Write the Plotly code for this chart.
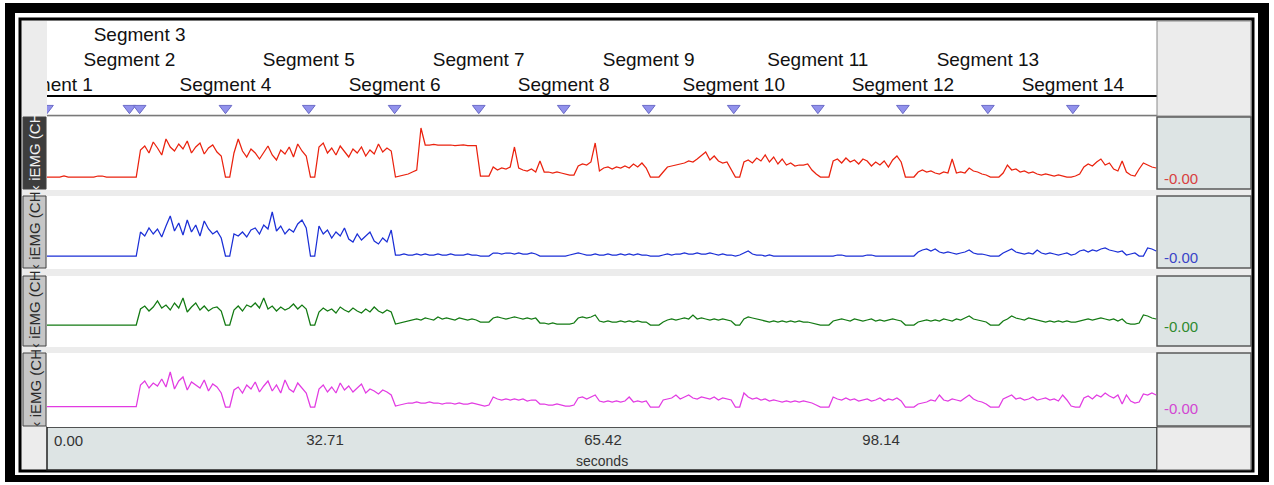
import plotly.graph_objects as go

# ---------------------------------------------------------------------------
# iEMG recording, four channels, sampled every 0.5 s (values = amplitude above
# each channel's baseline, arbitrary units)
# ---------------------------------------------------------------------------
SAMPLE_DT = 0.5

ch1_red = [
    0, 0, 0, 0, 1, 0, 0, 0, 0, 0, 0, 0, 1, 1, 0, 0, 0, 0, 0, 0,                     # 0-10 s
    0, 0, 27, 31, 24, 35, 29, 22, 38, 30, 26, 33, 28, 36, 24, 30, 34, 23, 29, 32,   # 10-20 s
    25, 21, 0, 0, 24, 38, 26, 20, 28, 24, 18, 25, 31, 22, 17, 27, 23, 30, 20, 33,   # 20-30 s
    26, 21, 0, 0, 30, 34, 24, 29, 22, 31, 26, 20, 28, 24, 30, 21, 27, 23, 33, 25,   # 30-40 s
    29, 26, 0, 1, 2, 3, 5, 7, 49, 32, 32, 32.5, 32, 32, 32.5, 32, 31.5, 32, 32, 31.5,  # 40-50 s
    31.5, 31.5, 1, 1, 1, 10, 7, 9, 8, 10, 30, 9, 7, 6, 8, 5, 16, 5, 5, 4,           # 50-60 s
    5, 4, 3, 2, 2, 11, 13, 12, 15, 34, 6, 9, 10, 8, 10, 9, 11, 9, 13, 10,           # 60-70 s
    14, 9, 0, 0, 0, 5, 10, 11, 12, 13, 14, 16, 15, 18, 22, 25, 17, 21, 16, 14,      # 70-80 s
    15, 8, 0, 0, 15, 17, 14, 19, 16, 22, 15, 20, 13, 18, 12, 14, 11, 12, 12, 13,    # 80-90 s
    7, 3, 0, 0, 0, 16, 18, 14, 19, 15, 17, 13, 18, 16, 11, 15, 12, 16, 10, 17,      # 90-100 s
    21, 15, 0, 0, 0, 5, 7, 5, 6, 4, 3, 5, 4, 18, 4, 5, 4, 9, 6, 5,                  # 100-110 s
    3, 2, 0, 0, 0, 4, 12, 7, 8, 5, 6, 4, 5, 3, 2, 3, 2, 1, 2, 1,                    # 110-120 s
    0, 0, 1, 3, 10, 13, 11, 15, 18, 12, 14, 8, 6, 16, 5, 2, 1, 8, 14, 12,           # 120-130 s
    10, 9,
]

ch2_blue = [
    0, 0, 0, 0, 0, 0, 0, 0, 0, 0, 0, 0, 0, 0, 0, 0, 0, 0, 0, 0,
    0, 0, 24, 20, 28, 22, 27, 19, 30, 40, 25, 33, 21, 36, 24, 31, 20, 35, 27, 22,
    25, 18, 0, 0, 22, 20, 24, 19, 26, 28, 22, 31, 27, 44, 25, 30, 22, 27, 24, 32,
    36, 28, 0, 0, 30, 22, 26, 18, 24, 20, 28, 17, 14, 22, 16, 20, 24, 15, 12, 18,
    14, 26, 1, 1, 2, 1, 1, 2, 1, 2, 1, 1, 2, 1, 1, 2, 1, 1, 1, 2,
    1, 1, 0, 0, 0, 3, 3, 2, 3, 3, 2, 3, 2, 2, 3, 2, 0, 0, 0, 0,
    0, 0, 0, 1, 2, 3, 2, 1, 1, 2, 1, 1, 2, 1, 1, 2, 1, 2, 1, 2,
    1, 1, 0, 0, 0, 1, 2, 1, 2, 2, 3, 2, 2, 3, 2, 2, 3, 2, 1, 2,
    1, 1, 0, 1, 3, 5, 2, 1, 1, 0, 1, 0, 0, 0, 0, 0, 0, 0, 0, 0,
    0, 0, 0, 0, 0, 0, 1, 1, 0, 0, 0, 0, 0, 1, 1, 0, 0, 0, 0, 0,
    0, 0, 0, 0, 0, 4, 6, 7, 5, 7, 4, 3, 4, 3, 2, 3, 4, 6, 3, 2,
    2, 1, 0, 0, 0, 3, 5, 7, 4, 3, 2, 3, 2, 6, 3, 2, 3, 2, 1, 2,
    3, 1, 2, 5, 6, 4, 6, 5, 7, 8, 6, 5, 4, 5, 1, 2, 3, 0, 0, 8,
    7, 5,
]

ch3_green = [
    0, 0, 0, 0, 0, 0, 0, 0, 0, 0, 0, 0, 0, 0, 0, 0, 0, 0, 0, 0,
    0, 0, 16, 19, 14, 18, 24, 17, 20, 15, 22, 17, 27, 13, 18, 22, 15, 19, 14, 17,
    18, 14, 0, 0, 15, 19, 14, 20, 18, 22, 17, 27, 16, 19, 14, 18, 15, 17, 21, 16,
    20, 16, 0, 0, 13, 17, 14, 16, 12, 18, 15, 13, 17, 14, 12, 16, 13, 18, 14, 12,
    15, 13, 1, 2, 3, 4, 5, 6, 5, 7, 6, 5, 8, 6, 7, 6, 5, 7, 6, 5,
    6, 5, 3, 3, 3, 7, 8, 7, 6, 7, 8, 7, 6, 7, 6, 7, 2, 2, 1, 2,
    1, 1, 1, 1, 2, 7, 8, 7, 8, 10, 4, 3, 4, 3, 3, 4, 3, 4, 3, 4,
    3, 3, 0, 0, 0, 3, 5, 6, 5, 6, 7, 6, 10, 6, 7, 6, 5, 6, 5, 6,
    5, 4, 0, 0, 6, 8, 7, 6, 5, 4, 3, 4, 3, 4, 3, 4, 3, 4, 3, 3,
    2, 1, 0, 0, 0, 4, 5, 6, 5, 4, 6, 5, 4, 5, 6, 4, 5, 4, 5, 6,
    5, 4, 0, 0, 0, 3, 4, 5, 4, 5, 4, 6, 5, 4, 6, 5, 7, 9, 6, 5,
    4, 3, 0, 0, 0, 4, 6, 9, 7, 6, 5, 7, 6, 5, 4, 3, 4, 3, 4, 3,
    4, 3, 3, 4, 5, 6, 5, 6, 7, 6, 5, 6, 4, 6, 2, 1, 1, 2, 10, 9,
    7, 6,
]

ch4_magenta = [
    0.5, 0.5, 0.5, 0.5, 0.5, 0.5, 0.5, 0.5, 0.5, 0.5, 0.5, 0.5, 0.5, 0.5, 0.5, 0.5, 0.5, 0.5, 0.5, 0.5,
    0.5, 0.5, 22, 26, 19, 24, 21, 28, 20, 35, 18, 26, 30, 17, 25, 22, 19, 27, 16, 23,
    20, 14, 0, 0, 17, 20, 14, 22, 18, 25, 15, 21, 26, 16, 22, 14, 27, 18, 15, 24,
    19, 14, 0, 0, 18, 22, 15, 20, 14, 24, 17, 21, 15, 19, 23, 14, 18, 16, 13, 17,
    15, 12, 1, 2, 3, 4, 4, 5, 4, 4, 5, 4, 4, 3, 4, 4, 3, 4, 3, 3,
    4, 3, 2, 1, 2, 10, 8, 7, 8, 7, 8, 7, 8, 6, 7, 7, 3, 3, 2, 2,
    3, 2, 1, 1, 2, 9, 10, 8, 10, 12, 6, 5, 6, 5, 6, 5, 6, 10, 5, 6,
    5, 6, 0, 0, 0, 7, 8, 9, 12, 8, 10, 12, 9, 8, 10, 9, 8, 10, 7, 9,
    8, 7, 0, 0, 14, 10, 8, 9, 7, 8, 6, 7, 6, 5, 6, 5, 6, 5, 6, 5,
    4, 2, 0, 0, 0, 10, 8, 7, 9, 7, 8, 6, 7, 8, 6, 7, 9, 6, 8, 7,
    9, 6, 0, 0, 0, 3, 4, 5, 7, 6, 12, 7, 6, 8, 7, 6, 9, 12, 8, 6,
    5, 3, 0, 0, 0, 8, 10, 12, 8, 9, 7, 8, 10, 7, 8, 9, 7, 8, 6, 12,
    7, 1, 0, 0, 9, 11, 8, 12, 10, 14, 11, 9, 12, 3, 12, 6, 4, 5, 13, 12,
    14, 12,
]

channel_values = [ch1_red, ch2_blue, ch3_green, ch4_magenta]
for vals in channel_values:
    assert len(vals) == len(ch1_red)
time_s = [i * SAMPLE_DT for i in range(len(ch1_red))]

channel_names = ["iEMG (CH1)", "iEMG (CH2)", "iEMG (CH3)", "iEMG (CH4)"]
channel_readout = ["-0.00", "-0.00", "-0.00", "-0.00"]

# comment markers
segment_names = ["Segment %d" % i for i in range(1, 15)]
segment_times = [0.0, 9.7, 10.9, 21.0, 30.8, 40.9, 50.8, 60.8, 70.8, 80.8,
                 90.7, 100.7, 110.7, 120.7]
segment_tier = [0, 1, 2, 0, 1, 0, 1, 0, 1, 0, 1, 0, 1, 0]

# time axis
tick_vals = [0.0, 32.71, 65.42, 98.14]
tick_text = ["0.00", "32.71", "65.42", "98.14"]
T_END = 130.6

# ---------------------------------------------------------------------------
# layout helpers (pixel geometry of the window)
# ---------------------------------------------------------------------------
W, H = 1274, 485
FONT = "Liberation Sans, Arial, sans-serif"

line_colors = ["#ea220e", "#1b2fd6", "#137a13", "#e23be2"]
readout_colors = ["#d84040", "#3a44c8", "#2f8a2f", "#d247d2"]

PLOT_X0, PLOT_X1 = 47, 1157
panel_px = [(117, 190), (196, 269), (276, 347), (353, 427)]
panel_range = [(-13, 60), (-13, 60), (-22, 49), (-20, 54)]
marker_px = (97, 115)
header_px = (21, 96)


def fx(px):
    return px / W


def fy(py):
    return 1 - py / H


def rect(x0, y0, x1, y1, fill, line=None, lw=0):
    return dict(type="rect", xref="paper", yref="paper", layer="below",
                x0=fx(x0), x1=fx(x1), y0=fy(y1), y1=fy(y0),
                fillcolor=fill, line=dict(color=line or fill, width=lw))


def hline(x0, x1, y, color, lw):
    return dict(type="line", xref="paper", yref="paper", layer="below",
                x0=fx(x0), x1=fx(x1), y0=fy(y), y1=fy(y),
                line=dict(color=color, width=lw))


fig = go.Figure()

# channel traces (axes 1..4)
for i, vals in enumerate(channel_values):
    k = "" if i == 0 else str(i + 1)
    fig.add_trace(go.Scatter(
        x=time_s, y=vals, mode="lines", name=channel_names[i],
        line=dict(color=line_colors[i], width=1.25),
        xaxis="x" + k, yaxis="y" + k, hoverinfo="skip"))

# comment marker triangles (axis 5)
fig.add_trace(go.Scatter(
    x=segment_times, y=[0.38] * len(segment_times), mode="markers",
    marker=dict(symbol="triangle-down", size=11, color="#9292ec",
                line=dict(color="#6c6cc8", width=1)),
    xaxis="x5", yaxis="y5", hoverinfo="skip", cliponaxis=True))

# comment labels (axis 6), stacked in three tiers
tier_level = [10, 35, 60]
fig.add_trace(go.Scatter(
    x=segment_times, y=[tier_level[t] for t in segment_tier],
    mode="text", text=segment_names, textposition="middle center",
    textfont=dict(family=FONT, size=19, color="#111111"),
    xaxis="x6", yaxis="y6", hoverinfo="skip", cliponaxis=True))

layout_axes = {}
xdom = [fx(PLOT_X0), fx(PLOT_X1)]
all_y = panel_px + [marker_px, header_px]
all_rng = panel_range + [(0, 1), (0, 75)]
for i in range(6):
    k = "" if i == 0 else str(i + 1)
    top, bot = all_y[i]
    xa = dict(domain=xdom, range=[0, T_END], anchor="y" + k,
              showgrid=False, zeroline=False, showline=False,
              showticklabels=False, ticks="", fixedrange=True)
    if i > 0:
        xa["matches"] = "x"
    if i == 3:
        xa.update(showticklabels=True, tickvals=tick_vals[1:],
                  ticktext=tick_text[1:], ticklabelstandoff=2,
                  tickfont=dict(family=FONT, size=15, color="#333333"))
    layout_axes["xaxis" + k] = xa
    layout_axes["yaxis" + k] = dict(
        domain=[fy(bot), fy(top)], range=list(all_rng[i]), anchor="x" + k,
        visible=False, fixedrange=True)

shapes = [
    rect(5, 3, 1269, 482, "#000000"),
    rect(15, 13, 1258, 475, "#ffffff"),
    rect(20, 19, 1253, 471, "#ececec", line="#000000", lw=3),
    rect(PLOT_X0, 21, PLOT_X1, 115, "#ffffff"),
    hline(PLOT_X0, PLOT_X1, 96, "#000000", 2),
    hline(PLOT_X0, PLOT_X1, 115.5, "#7a7a7a", 1.5),
    rect(1157, 21, 1251, 116, "#ececec", line="#8a8a8a", lw=1),
    rect(PLOT_X0, 427, PLOT_X1, 470, "#dde4e4", line="#222222", lw=1.5),
    rect(1157, 427, 1251, 470, "#ececec", line="#555555", lw=1),
]
label_fill = ["#3d3d3d", "#c6c6c6", "#c6c6c6", "#c6c6c6"]
label_text = ["#f2f2f2", "#2a2a2a", "#2a2a2a", "#2a2a2a"]
annotations = []
for i, (top, bot) in enumerate(panel_px):
    k = "" if i == 0 else str(i + 1)
    shapes.append(rect(PLOT_X0, top, PLOT_X1, bot, "#ffffff"))
    shapes.append(rect(1157, top, 1251, bot - 1, "#dde4e4", line="#5a5a5a", lw=1.5))
    shapes.append(rect(23, top, 46, bot - 1, label_fill[i], line="#444444", lw=1))
    annotations.append(dict(
        xref="paper", yref="paper", x=fx(34.5), y=fy((top + bot) / 2 - 2),
        text="‹ " + channel_names[i][:-2], textangle=-90, showarrow=False,
        font=dict(family=FONT, size=15, color=label_text[i]),
        xanchor="center", yanchor="middle"))
    # live readout sits level with the channel's baseline
    annotations.append(dict(
        xref="paper", yref="y" + k, x=fx(1162), y=0, yshift=-1,
        text=channel_readout[i], showarrow=False, xanchor="left", yanchor="middle",
        font=dict(family=FONT, size=15, color=readout_colors[i])))

# first time label sits inside the axis band, right of the origin
annotations.append(dict(
    xref="x4", yref="paper", x=tick_vals[0], y=fy(440), text=tick_text[0],
    showarrow=False, xanchor="left", yanchor="middle", xshift=5,
    font=dict(family=FONT, size=15, color="#333333")))
annotations.append(dict(
    xref="paper", yref="paper", x=fx(602), y=fy(461), text="seconds",
    showarrow=False, xanchor="center", yanchor="middle",
    font=dict(family=FONT, size=14, color="#333333")))

fig.update_layout(
    width=W, height=H, margin=dict(l=0, r=0, t=0, b=0),
    paper_bgcolor="#ffffff", plot_bgcolor="rgba(0,0,0,0)",
    showlegend=False, shapes=shapes, annotations=annotations,
    **layout_axes)

fig.write_html("out.html", config={"displayModeBar": False})
